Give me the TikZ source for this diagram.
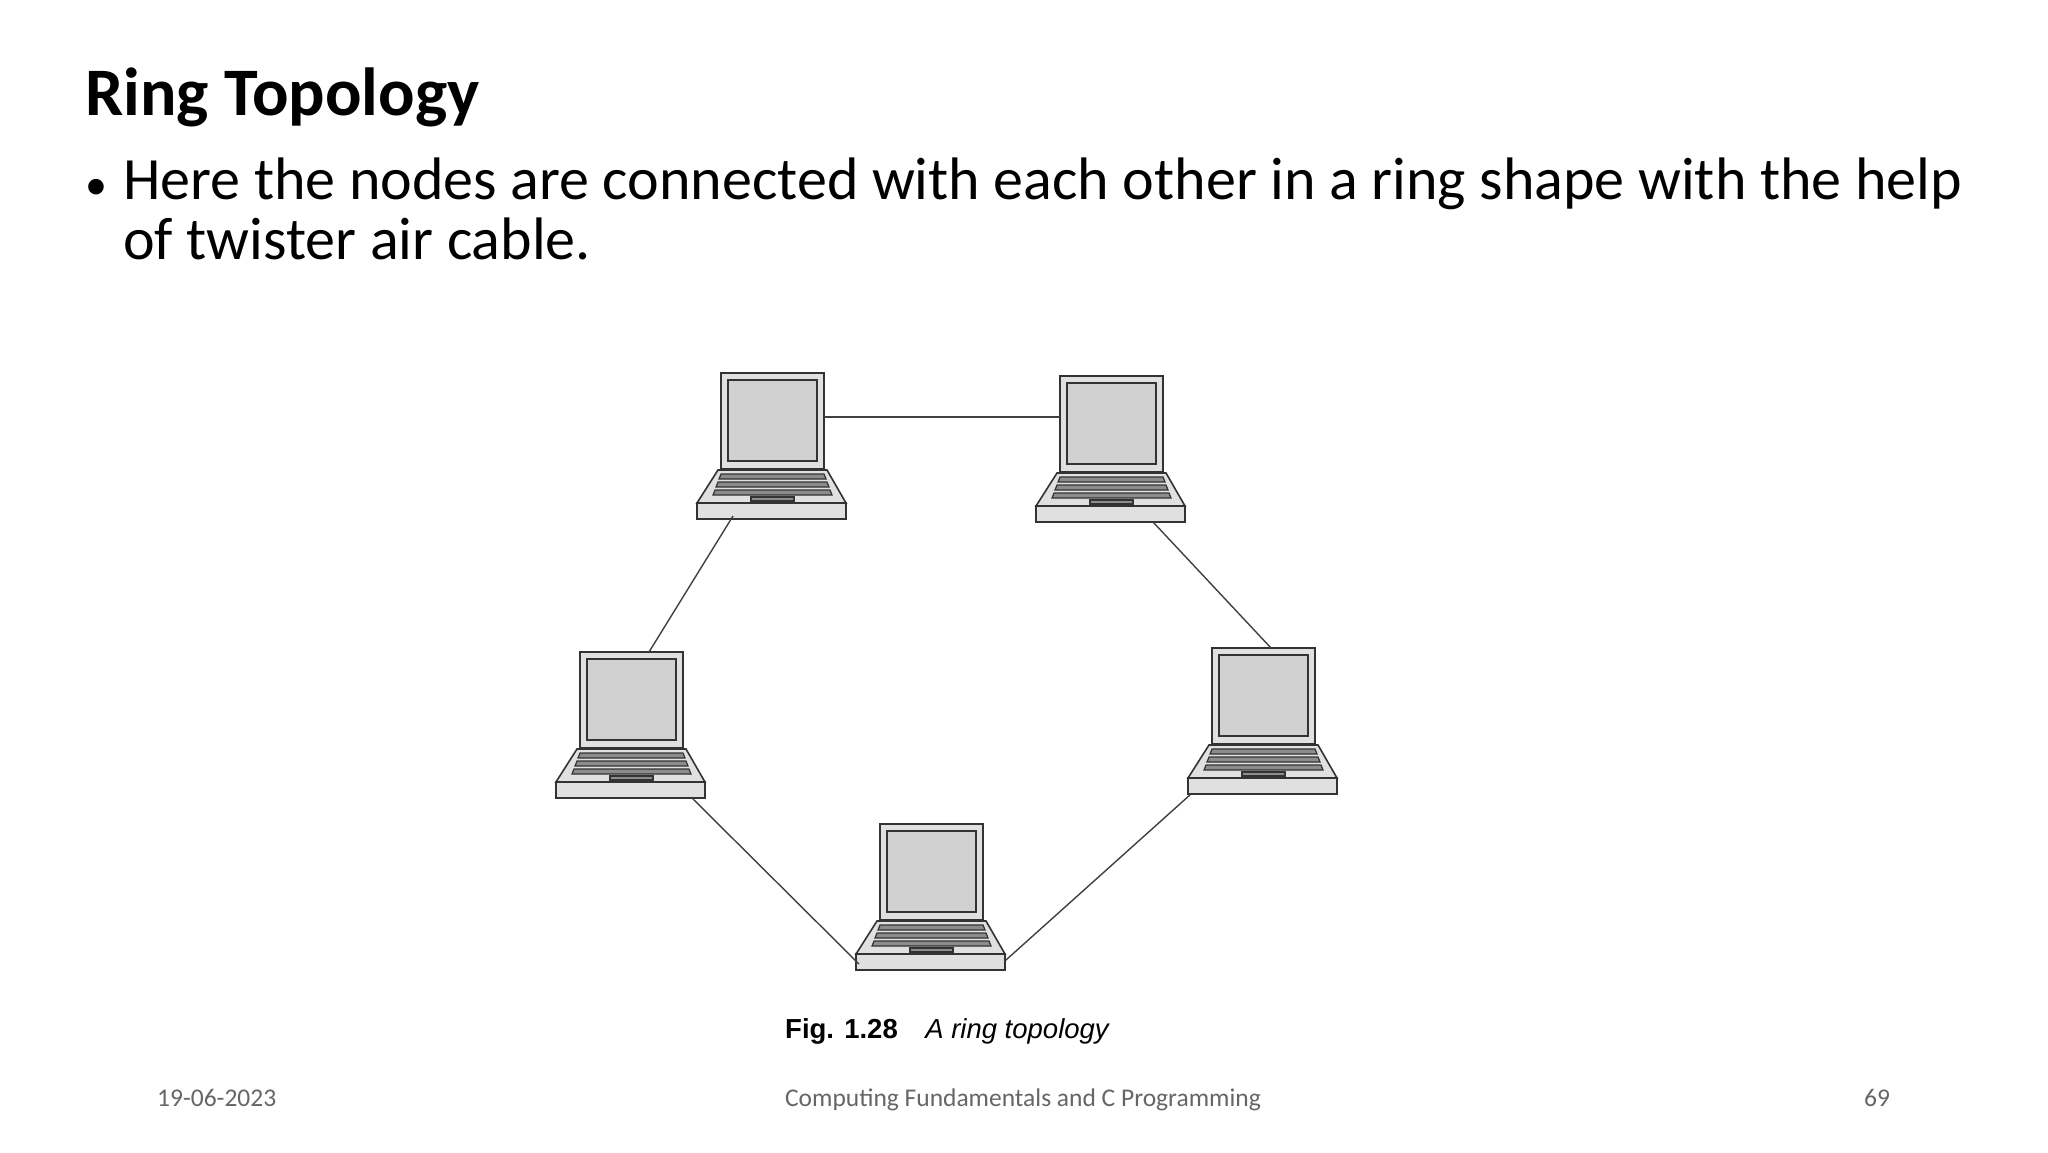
\documentclass[tikz,border=0pt]{standalone}
\usepackage{fontspec}
\setmainfont{Carlito}
\newfontfamily\arialf{Liberation Sans}
\begin{document}
\begin{tikzpicture}[x=1pt,y=-1pt,
  lap/.style={draw=black!80,line width=1.6pt,fill=black!12},
  scr/.style={draw=black!80,line width=1.6pt,fill=black!18},
  key/.style={draw=black!80,line width=1.2pt,fill=black!45},
  wire/.style={draw=black!75,line width=1.4pt},
  lbl/.style={anchor=base west,inner sep=0pt}]
\useasboundingbox (0,0) rectangle (2048,1152);
\fill[white] (0,0) rectangle (2048,1152);
\newcommand{\laptop}[3]{%
 \begin{scope}[shift={(#1,#2)}]
  \draw[lap] (0,0) rectangle (103,96);
  \draw[scr] (7,7) rectangle (96,88);
  \draw[lap] (-3,97) -- (106,97) -- (125,130) -- (-24,130) -- cycle;
  \draw[lap] (-24,130) rectangle (125,146);
  \draw[key] (0,101) -- (103,101) -- (105,106) -- (-2,106) -- cycle;
  \draw[key] (-3,109) -- (106,109) -- (108,114) -- (-5,114) -- cycle;
  \draw[key] (-6,117) -- (109,117) -- (111,122) -- (-8,122) -- cycle;
  \draw[key] (30,124) rectangle (73,128);
  \node[inner sep=0pt,minimum width=150pt,minimum height=146pt,anchor=north west] (#3) at (-24,0) {};
 \end{scope}}
\laptop{721}{373}{L1}
\laptop{1060}{376}{L2}
\laptop{580}{652}{L3}
\laptop{1212}{648}{L4}
\laptop{880}{824}{L5}
\coordinate (a1) at (824,417); \coordinate (a2) at (1060,417);
\coordinate (b1) at (733,516); \coordinate (b2) at (649,652);
\coordinate (c1) at (1153,522); \coordinate (c2) at (1271,648);
\coordinate (d1) at (692,798); \coordinate (d2) at (859,964);
\coordinate (e1) at (1191,794); \coordinate (e2) at (1006,960);
\draw[wire] (a1) -- (a2);
\draw[wire] (b1) -- (b2);
\draw[wire] (c1) -- (c2);
\draw[wire] (d1) -- (d2);
\draw[wire] (e1) -- (e2);
\node[lbl,font=\fontsize{68}{72}\selectfont\bfseries] (title) at (85,115) {Ring Topology};
\node[lbl,font=\fontsize{44}{50}\selectfont] (bul) at (85,199) {•};
\node[lbl,font=\fontsize{60}{64}\selectfont] (t1) at (123,199) {Here the nodes are connected with each other in a ring shape with the help};
\node[lbl,font=\fontsize{60}{64}\selectfont] (t2) at (123,259) {of twister air cable.};
\node[lbl,font=\arialf\fontsize{27.5}{30}\selectfont] (cap) at (785,1038) {\textbf{Fig. 1.28}\hspace{1em}\textit{A ring topology}};
\node[lbl,font=\fontsize{25.5}{28}\selectfont,text=black!60] (f1) at (157,1106) {19-06-2023};
\node[anchor=base,inner sep=0pt,font=\fontsize{25.5}{28}\selectfont,text=black!60] (f2) at (1023,1106) {Computing Fundamentals and C Programming};
\node[lbl,font=\fontsize{25.5}{28}\selectfont,text=black!60] (f3) at (1864,1106) {69};
\end{tikzpicture}
\end{document}
